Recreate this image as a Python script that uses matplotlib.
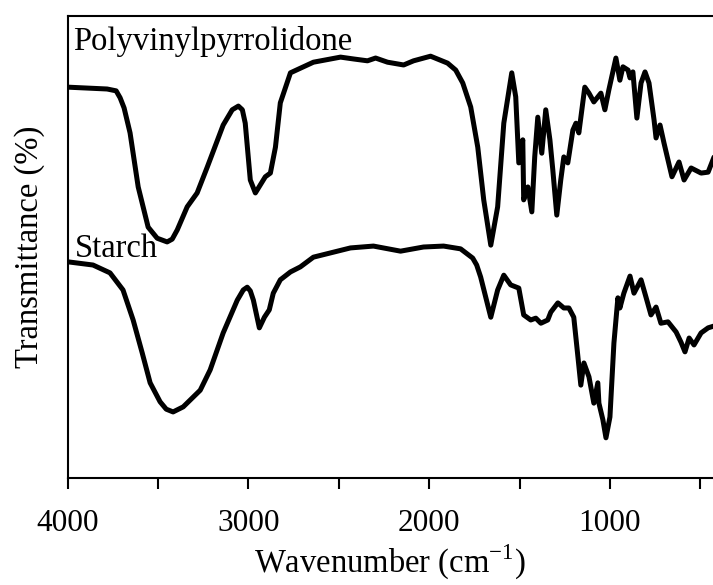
import numpy as np
import matplotlib
matplotlib.use("Agg")
import matplotlib.pyplot as plt

plt.rcParams['font.family'] = ['Liberation Serif', 'DejaVu Serif']
plt.rcParams['mathtext.fontset'] = 'custom'
plt.rcParams['mathtext.rm'] = 'Liberation Serif'

# FTIR spectra, wavenumber (cm-1) vs transmittance (arbitrary offset, %)
pvp_wn = [4000, 3781, 3731, 3709, 3687, 3654, 3609, 3554, 3504, 3449, 3421, 3393,
          3338, 3283, 3227, 3139, 3089, 3055, 3033, 3017, 2989, 2961, 2906, 2878,
          2850, 2823, 2767, 2712, 2640, 2490, 2418, 2341, 2296, 2230, 2141, 2086,
          1992, 1898, 1853, 1814, 1770, 1731, 1698, 1659, 1621, 1587, 1543, 1521,
          1504, 1482, 1477, 1454, 1432, 1416, 1399, 1377, 1355, 1332, 1316, 1294,
          1272, 1255, 1233, 1205, 1188, 1172, 1139, 1116, 1089, 1050, 1028, 1006,
          967, 945, 928, 900, 889, 873, 851, 828, 806, 784, 756, 745, 723, 701,
          657, 618, 590, 551, 496, 457, 424]
pvp_t = [84.6, 84.2, 83.8, 82.3, 80.1, 74.7, 63.0, 54.3, 51.9, 51.1, 51.7, 53.7,
         58.7, 61.7, 67.3, 76.4, 79.7, 80.5, 79.7, 76.8, 64.5, 61.7, 65.2, 66.0,
         71.6, 81.2, 87.7, 88.7, 90.0, 91.1, 90.7, 90.3, 90.9, 90.0, 89.4, 90.3,
         91.3, 89.8, 88.3, 85.5, 80.3, 71.6, 60.2, 50.4, 58.7, 76.8, 87.7, 82.5,
         68.2, 73.2, 60.2, 63.0, 57.6, 69.5, 78.1, 70.3, 79.7, 73.2, 66.7, 56.9,
         64.5, 69.5, 68.2, 75.3, 76.8, 74.7, 84.6, 83.3, 81.4, 83.3, 79.7, 84.0,
         90.9, 86.1, 89.0, 88.3, 86.6, 87.9, 77.9, 85.5, 87.9, 85.5, 77.5, 73.6,
         76.4, 72.5, 65.2, 68.4, 64.5, 67.1, 66.0, 66.2, 69.5]

starch_wn = [4000, 3859, 3765, 3693, 3637, 3587, 3543, 3488, 3454, 3416, 3360, 3266,
             3211, 3139, 3061, 3028, 3006, 2989, 2972, 2939, 2911, 2884, 2862, 2823,
             2767, 2712, 2640, 2435, 2308, 2158, 2031, 1920, 1826, 1759, 1737, 1715,
             1659, 1621, 1587, 1549, 1504, 1477, 1438, 1410, 1382, 1344, 1327, 1288,
             1255, 1227, 1200, 1177, 1161, 1144, 1116, 1089, 1067, 1061, 1039, 1022,
             1000, 978, 956, 945, 923, 889, 867, 828, 801, 773, 745, 718, 679, 634,
             607, 585, 562, 535, 496, 457, 424]
starch_t = [46.8, 46.1, 44.4, 40.7, 34.2, 27.1, 20.6, 16.5, 14.9, 14.3, 15.4, 19.0,
            23.4, 31.4, 38.5, 40.7, 41.3, 40.5, 38.5, 32.5, 34.8, 36.4, 40.0, 42.9,
            44.6, 45.7, 47.8, 49.8, 50.2, 49.1, 50.0, 50.2, 49.6, 47.6, 46.1, 43.5,
            34.8, 40.7, 43.9, 41.8, 41.1, 35.3, 34.2, 34.6, 33.5, 34.2, 35.9, 37.9,
            36.8, 36.8, 34.8, 26.2, 20.1, 24.9, 21.9, 16.2, 20.6, 16.2, 12.6, 8.7,
            13.2, 29.2, 39.0, 36.8, 40.0, 43.7, 40.0, 42.9, 39.2, 35.3, 37.0, 33.5,
            33.8, 31.6, 29.4, 27.3, 30.3, 28.8, 31.4, 32.5, 32.9]

fig = plt.figure(figsize=(7.13, 5.85), dpi=100)
ax = fig.add_axes([67.5 / 713, 107 / 585, 1 - 67.5 / 713, 462 / 585])

ax.plot(pvp_wn, pvp_t, color='black', lw=3.6, solid_joinstyle='round',
        solid_capstyle='round')
ax.plot(starch_wn, starch_t, color='black', lw=3.6, solid_joinstyle='round',
        solid_capstyle='round')

ax.text(3970, 92.6, 'Polyvinylpyrrolidone', fontsize=23.5, va='baseline', ha='left')
ax.text(3958, 47.8, 'Starch', fontsize=23.5, va='baseline', ha='left')

ax.set_xlim(4000, 430)
ax.set_ylim(0, 100)
ax.set_xticks([4000, 3000, 2000, 1000])
ax.set_xticks([3500, 2500, 1500, 500], minor=True)
ax.set_yticks([])
ax.tick_params(axis='x', which='both', direction='out', length=8, width=1.5,
               labelsize=22.5, pad=14)
ax.spines['right'].set_visible(False)
for s in ['top', 'left', 'bottom']:
    ax.spines[s].set_linewidth(1.5)

ax.set_xlabel('Wavenumber (cm$^{\\mathregular{-1}}$)', fontsize=23.5, labelpad=4)
ax.set_ylabel('Transmittance (%)', fontsize=23.5, labelpad=16)

fig.savefig('out.png', dpi=100)
